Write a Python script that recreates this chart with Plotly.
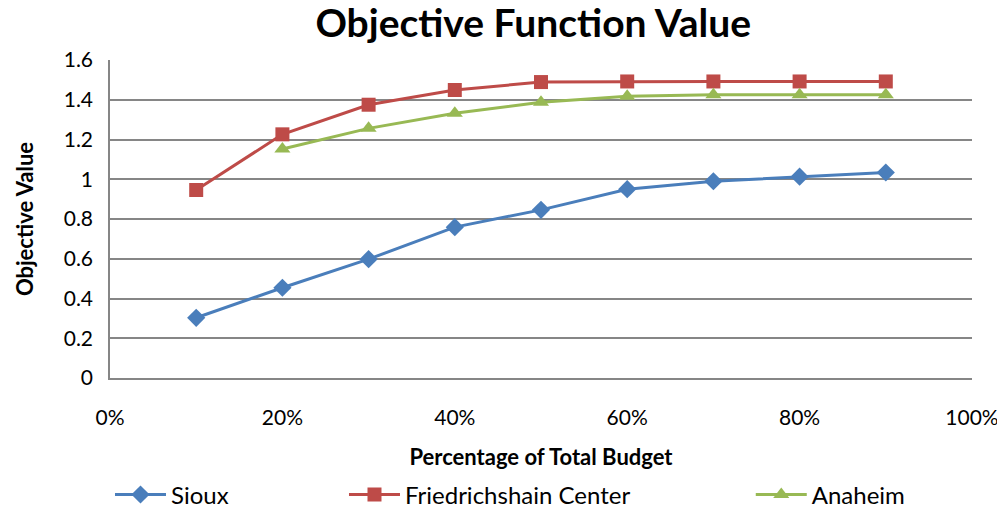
import plotly.graph_objects as go

budget = [0.1, 0.2, 0.3, 0.4, 0.5, 0.6, 0.7, 0.8, 0.9]
sioux = [0.303, 0.454, 0.598, 0.759, 0.846, 0.95, 0.99, 1.013, 1.034]
friedrichshain = [0.946, 1.226, 1.375, 1.449, 1.489, 1.492, 1.492, 1.492, 1.492]
anaheim_budget = [0.2, 0.3, 0.4, 0.5, 0.6, 0.7, 0.8, 0.9]
anaheim = [1.152, 1.256, 1.332, 1.387, 1.417, 1.425, 1.425, 1.425]

font = "Lato, 'Open Sans', sans-serif"
grid = "#868686"

fig = go.Figure()
fig.add_trace(go.Scatter(x=budget, y=sioux, name="Sioux", mode="lines+markers",
                         line=dict(color="#4a7ebb", width=3),
                         marker=dict(symbol="diamond", size=14, color="#4a7ebb"),
                         legend="legend"))
fig.add_trace(go.Scatter(x=budget, y=friedrichshain, name="Friedrichshain Center", mode="lines+markers",
                         line=dict(color="#be4b48", width=3),
                         marker=dict(symbol="square", size=14, color="#be4b48"),
                         legend="legend2"))
fig.add_trace(go.Scatter(x=anaheim_budget, y=anaheim, name="Anaheim", mode="lines+markers",
                         line=dict(color="#98b954", width=3),
                         marker=dict(symbol="triangle-up", size=14, color="#98b954"),
                         legend="legend3"))

# page body has an 8px margin, so the figure is a bit smaller than the window
leg = dict(orientation="h", xref="container", yref="container", y=0.032,
           yanchor="middle", xanchor="left", itemwidth=51,
           font=dict(family=font, size=24, color="black"), bgcolor="rgba(0,0,0,0)")
fig.update_layout(
    width=997, height=503,
    margin=dict(l=102, r=33, t=52, b=133, autoexpand=False),
    paper_bgcolor="white", plot_bgcolor="white",
    showlegend=True,
    title=dict(text="<b>Objective Function Value</b>", xref="paper", x=0.491, xanchor="center",
               y=0.97, yanchor="middle", font=dict(family=font, size=39, color="black")),
    font=dict(family=font, size=21, color="black"),
    xaxis=dict(range=[0, 1], tickvals=[0, 0.2, 0.4, 0.6, 0.8, 1.0], tickformat=".0%",
               showgrid=False, showline=True, linecolor=grid, linewidth=1.5,
               ticks="outside", tickcolor="rgba(0,0,0,0)", ticklen=20, zeroline=False,
               automargin=False, ticklabeloverflow="allow", tickfont=dict(family=font, size=21),
               title=dict(text="<b>Percentage of Total Budget</b>", font=dict(family=font, size=22), standoff=22)),
    yaxis=dict(range=[0, 1.6], dtick=0.2, showgrid=True, gridcolor=grid, gridwidth=1.5,
               showline=True, linecolor=grid, linewidth=1.5, zeroline=False,
               ticks="outside", tickcolor="rgba(0,0,0,0)", ticklen=11,
               automargin=False, tickfont=dict(family=font, size=21), tickformat="~g",
               title=dict(text="<b>Objective Value</b>", font=dict(family=font, size=22), standoff=24)),
    legend=dict(leg, x=0.1023),
    legend2=dict(leg, x=0.337),
    legend3=dict(leg, x=0.745),
)

fig.write_html("out.html")
